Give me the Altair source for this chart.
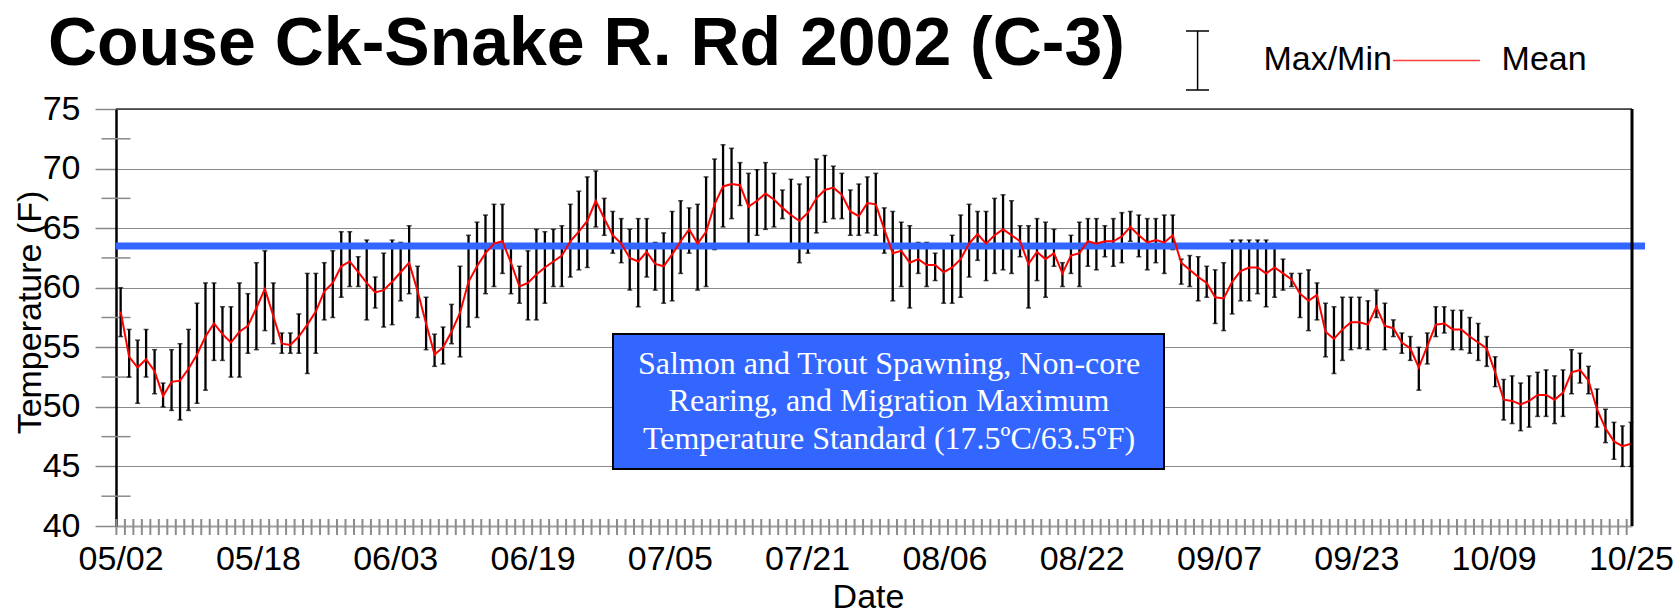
import altair as alt
import pandas as pd

# ---- labels -------------------------------------------------------------
TITLE = "Couse Ck-Snake R. Rd 2002 (C-3)"
X_TITLE = "Date"
Y_TITLE = "Temperature (F)"
START_DATE = "2002-05-02"
END_DATE = "2002-10-25"
TICK_LABELS = ["05/02", "05/18", "06/03", "06/19", "07/05", "07/21",
               "08/06", "08/22", "09/07", "09/23", "10/09", "10/25"]
Y_TICKS = [40, 45, 50, 55, 60, 65, 70, 75]
Y_MINOR = [42.5, 47.5, 52.5, 57.5, 62.5, 67.5, 72.5]
STANDARD_F = 63.5
STANDARD_TEXT = ["Salmon and Trout Spawning, Non-core",
                 "Rearing, and Migration Maximum",
                 "Temperature Standard (17.5\u00baC/63.5\u00baF)"]
LEGEND_BAR = "Max/Min"
LEGEND_LINE = "Mean"

# ---- water temperature readings (F), evenly spaced over the season -------
MAX_F = [
    60.0, 56.5, 55.6, 56.5, 54.8, 52.0, 54.8, 55.3, 56.5, 58.7,
    60.4, 60.4, 58.4, 58.4, 60.4, 59.5, 62.1, 63.1, 60.4, 56.2,
    56.2, 57.8, 61.2, 61.2, 62.1, 63.1, 64.7, 64.7, 62.6, 64.0,
    60.9, 62.9, 64.0, 63.8, 65.2, 61.8, 59.2, 56.1, 56.7, 58.6,
    61.8, 64.4, 65.5, 66.1, 67.0, 67.0, 63.7, 61.8, 63.1, 64.9,
    64.7, 64.9, 65.2, 67.0, 68.1, 69.3, 69.8, 67.5, 66.4, 65.8,
    64.9, 65.8, 65.8, 63.8, 64.6, 66.4, 67.3, 66.7, 67.0, 69.3,
    70.8, 72.0, 71.7, 70.5, 69.6, 69.9, 70.5, 69.6, 68.2, 69.1,
    68.7, 69.3, 70.8, 71.1, 70.2, 69.6, 68.2, 68.7, 69.3, 69.6,
    66.7, 66.4, 65.5, 65.2, 63.8, 63.8, 62.9, 63.4, 64.4, 66.1,
    67.0, 66.4, 66.4, 67.5, 67.8, 67.3, 65.2, 65.2, 65.8, 65.5,
    64.9, 62.1, 64.4, 65.5, 65.8, 65.8, 65.2, 65.8, 66.3, 66.4,
    66.1, 65.8, 65.8, 66.1, 66.1, 62.4, 62.7, 62.6, 61.8, 61.5,
    62.1, 64.0, 64.0, 64.0, 64.0, 64.0, 63.7, 62.4, 61.2, 61.2,
    61.5, 60.4, 58.7, 58.4, 59.2, 59.2, 59.2, 58.9, 59.8, 58.7,
    57.3, 56.2, 55.9, 55.0, 56.2, 58.4, 58.4, 58.1, 58.1, 57.5,
    57.0, 55.9, 54.2, 52.3, 52.6, 52.0, 52.6, 52.9, 53.1, 52.6,
    53.1, 54.8, 54.5, 53.4, 51.5, 49.8, 48.7, 48.4, 48.7,
]
MIN_F = [
    55.9, 52.5, 50.3, 52.5, 51.1, 50.0, 49.7, 48.9, 49.7, 50.3,
    51.4, 53.9, 53.9, 52.5, 52.5, 54.5, 54.8, 56.4, 55.3, 54.5,
    54.5, 54.5, 52.8, 54.5, 57.3, 57.5, 59.2, 60.1, 60.1, 57.3,
    58.3, 56.7, 56.9, 58.9, 59.5, 57.5, 54.8, 53.4, 53.6, 55.3,
    54.2, 56.7, 57.5, 59.5, 60.1, 61.2, 59.5, 58.7, 57.3, 57.3,
    58.7, 60.1, 60.1, 60.9, 61.5, 61.7, 65.1, 64.4, 62.9, 62.1,
    59.8, 58.4, 60.9, 59.8, 58.7, 58.9, 61.2, 62.9, 59.8, 60.1,
    63.2, 65.1, 65.8, 66.9, 63.7, 64.4, 64.9, 65.1, 65.8, 63.7,
    62.1, 62.9, 64.6, 65.5, 65.8, 65.8, 64.4, 64.4, 64.6, 64.4,
    62.9, 58.9, 60.1, 58.3, 61.2, 60.1, 60.6, 58.7, 58.7, 59.2,
    60.9, 62.3, 60.6, 61.2, 61.5, 61.2, 62.6, 58.3, 60.6, 59.2,
    61.8, 60.1, 61.2, 60.1, 61.8, 61.5, 62.6, 61.8, 62.1, 63.9,
    62.6, 61.5, 62.1, 61.2, 63.2, 60.3, 60.1, 58.9, 59.2, 57.0,
    56.4, 57.8, 58.9, 58.9, 59.5, 58.4, 59.2, 59.8, 60.1, 57.5,
    56.4, 57.3, 54.2, 52.8, 53.9, 54.8, 54.9, 54.8, 57.5, 54.8,
    55.9, 54.5, 53.9, 51.4, 53.6, 55.9, 56.2, 54.8, 54.8, 54.5,
    53.9, 53.4, 51.7, 48.9, 48.6, 48.0, 48.3, 49.2, 49.2, 48.6,
    49.2, 51.1, 52.0, 51.1, 48.3, 47.0, 45.6, 45.0, 45.0,
]
MEAN_F = [
    58.0, 54.2, 53.3, 54.0, 53.0, 50.9, 52.1, 52.2, 53.2, 54.4,
    55.9, 57.0, 56.1, 55.4, 56.3, 56.8, 58.3, 59.9, 57.6, 55.3,
    55.2, 55.9, 56.9, 58.0, 59.7, 60.4, 61.8, 62.2, 61.3, 60.4,
    59.6, 59.8, 60.5, 61.3, 62.1, 59.7, 57.0, 54.4, 55.0, 56.3,
    57.9, 60.5, 61.8, 62.9, 63.7, 63.9, 62.1, 60.1, 60.4, 61.1,
    61.7, 62.2, 62.7, 63.9, 64.7, 65.6, 67.3, 65.8, 64.4, 63.7,
    62.5, 62.2, 63.0, 62.0, 61.8, 62.8, 63.9, 64.9, 63.7, 64.7,
    67.0, 68.5, 68.7, 68.6, 66.8, 67.3, 67.9, 67.4, 66.7, 66.1,
    65.6, 66.3, 67.5, 68.2, 68.4, 67.8, 66.4, 66.0, 67.1, 67.0,
    64.9, 62.9, 63.1, 62.1, 62.4, 61.9, 61.9, 61.3, 61.7, 62.4,
    63.7, 64.5, 63.7, 64.4, 64.9, 64.4, 63.9, 62.0, 63.0, 62.4,
    62.9, 61.2, 62.7, 62.9, 63.9, 63.7, 63.9, 63.9, 64.3, 65.1,
    64.4, 63.8, 64.0, 63.8, 64.4, 62.1, 61.5, 60.9, 60.4, 59.2,
    59.1, 60.5, 61.4, 61.7, 61.7, 61.2, 61.7, 61.2, 60.7, 59.5,
    58.9, 59.4, 56.3, 55.7, 56.5, 57.1, 57.1, 56.9, 58.4, 56.8,
    56.6, 55.4, 54.9, 53.3, 55.1, 56.9, 57.0, 56.5, 56.5, 55.9,
    55.4, 54.9, 52.9, 50.6, 50.5, 50.2, 50.5, 51.0, 51.0, 50.6,
    51.2, 52.9, 53.1, 52.2, 49.8, 48.2, 47.1, 46.7, 46.9,
]

# ---- layout (pixels) ----------------------------------------------------
W, H = 1516, 417
PAD = {"left": 116, "top": 109, "right": 44, "bottom": 87}
FONT = "Liberation Sans"
SERIF = "Liberation Serif"
BLUE = "#3366ff"
GRID = "#8a8a8a"
FMT = "%Y-%m-%dT%H:%M:%S"

stamps = pd.date_range(START_DATE, END_DATE, periods=len(MEAN_F))
step = stamps[1] - stamps[0]
daily = pd.DataFrame({
    "date": stamps.strftime(FMT),
    "max": MAX_F, "min": MIN_F, "mean": MEAN_F,
})
# slot boundaries for the small ticks along the date axis
slot_edges = pd.DataFrame({"date": (stamps - step / 2).strftime(FMT)})
minor_y = pd.DataFrame({"t": Y_MINOR})
standard = pd.DataFrame({"t": [STANDARD_F]})


def as_datetime(label, hours=0):
    month, day = (int(p) for p in label.split("/"))
    return alt.DateTime(year=2002, month=month, date=day, hours=hours)


X_SCALE = alt.Scale(domain=[alt.DateTime(year=2002, month=5, date=1, hours=11),
                            alt.DateTime(year=2002, month=10, date=25, hours=3)])
X_AXIS = alt.Axis(values=[as_datetime(s) for s in TICK_LABELS], format="%m/%d",
                  grid=False, ticks=False, tickSize=0, labelPadding=16,
                  labelFont=FONT, labelFontSize=34, labelColor="black",
                  labelOverlap=False, labelFlush=False,
                  domainColor="#a0a0a0", domainWidth=2,
                  titleFont=FONT, titleFontSize=34, titleFontWeight="normal",
                  titleColor="black", titleX=752, titleY=81,
                  titleAlign="center", titleBaseline="alphabetic")
Y_SCALE = alt.Scale(domain=[40, 75], nice=False, zero=False)
Y_AXIS = alt.Axis(values=Y_TICKS, grid=True, gridColor=GRID, gridWidth=1,
                  tickColor=GRID, tickSize=21, tickWidth=1.5,
                  domainColor="black", domainWidth=2.5,
                  labelFont=FONT, labelFontSize=34, labelColor="black",
                  labelPadding=15, labelFlush=False, labelOverlap=False,
                  titleFont=FONT, titleFontSize=34, titleFontWeight="normal",
                  titleColor="black", titleX=-76, titleY=203, titleAngle=270,
                  titleAlign="center", titleBaseline="alphabetic")


def xenc(field="date"):
    return alt.X(f"{field}:T", scale=X_SCALE, axis=X_AXIS, title=X_TITLE)


def yenc(field):
    return alt.Y(f"{field}:Q", scale=Y_SCALE, axis=Y_AXIS, title=Y_TITLE)


# frame: dark top edge and black right edge
top_edge = alt.Chart(standard).mark_rule(color="#333333", strokeWidth=1.5).encode(
    x=alt.value(0), x2=alt.value(W), y=alt.value(0))
right_edge = alt.Chart(standard).mark_rule(color="black", strokeWidth=3).encode(
    x=alt.value(W), y=alt.value(0), y2=alt.value(H))

y_minor = alt.Chart(minor_y).mark_rule(color=GRID, strokeWidth=1.5).encode(
    y=yenc("t"), x=alt.value(-14.5), x2=alt.value(14.5))
x_minor = alt.Chart(slot_edges).mark_rule(color="#8c8c8c", strokeWidth=2).encode(
    x=xenc(), y=alt.value(H - 7), y2=alt.value(H + 9))

bars = alt.Chart(daily).mark_rule(color="black", strokeWidth=2.3).encode(
    x=xenc(), y=yenc("max"), y2="min")
cap_hi = alt.Chart(daily).mark_tick(color="black", orient="horizontal",
                                    size=5, thickness=1.5).encode(
    x=xenc(), y=yenc("max"))
cap_lo = alt.Chart(daily).mark_tick(color="black", orient="horizontal",
                                    size=5, thickness=1.5).encode(
    x=xenc(), y=yenc("min"))

std_line = alt.Chart(standard).mark_rule(color=BLUE, strokeWidth=7).encode(
    y=yenc("t"), x=alt.value(0), x2=alt.value(W + 13))

mean_line = alt.Chart(daily).mark_line(color="#ff0000", strokeWidth=2).encode(
    x=xenc(), y=yenc("mean"))

# annotation box for the temperature standard
box = alt.Chart(standard).mark_rect(fill=BLUE, stroke="black", strokeWidth=2).encode(
    x=alt.value(497), x2=alt.value(1048), y=alt.value(225), y2=alt.value(360))
box_text = alt.Chart(standard).mark_text(
    font=SERIF, fontSize=32, color="white", align="center",
    baseline="alphabetic", lineHeight=37.3).encode(
    x=alt.value(773), y=alt.value(265), text=alt.value(STANDARD_TEXT))

title = alt.Chart(pd.DataFrame({"label": [TITLE]})).mark_text(
    font=FONT, fontSize=68, fontWeight="bold", color="black",
    align="left", baseline="alphabetic").encode(
    x=alt.value(-68), y=alt.value(-44), text="label:N")

# legend: max/min bar symbol and mean line
leg_bar = alt.Chart(standard).mark_rule(color="black", strokeWidth=1.5).encode(
    x=alt.value(1081.6), y=alt.value(-78), y2=alt.value(-19))
leg_cap_top = alt.Chart(standard).mark_rule(color="black", strokeWidth=1.5).encode(
    x=alt.value(1070), x2=alt.value(1093), y=alt.value(-78))
leg_cap_bot = alt.Chart(standard).mark_rule(color="black", strokeWidth=1.5).encode(
    x=alt.value(1070), x2=alt.value(1093), y=alt.value(-19))
leg_line = alt.Chart(standard).mark_rule(color="#ff4040", strokeWidth=1.5).encode(
    x=alt.value(1277), x2=alt.value(1364), y=alt.value(-48.6))
leg_labels = alt.Chart(pd.DataFrame({
    "label": [LEGEND_BAR, LEGEND_LINE], "px": [1147.4, 1385.6]})).mark_text(
    font=FONT, fontSize=34, color="black", align="left",
    baseline="alphabetic").encode(
    x=alt.X("px:Q", scale=None, axis=None), y=alt.value(-39), text="label:N")

chart = alt.layer(
    y_minor, x_minor, bars, cap_hi, cap_lo, std_line, mean_line,
    top_edge, right_edge, box, box_text, title,
    leg_bar, leg_cap_top, leg_cap_bot, leg_line, leg_labels,
).properties(
    width=W, height=H, padding=PAD,
    autosize=alt.AutoSizeParams(type="none"),
    background="white",
).configure_view(stroke=None)

chart.save("out.html", embed_options={"renderer": "svg", "actions": False})
